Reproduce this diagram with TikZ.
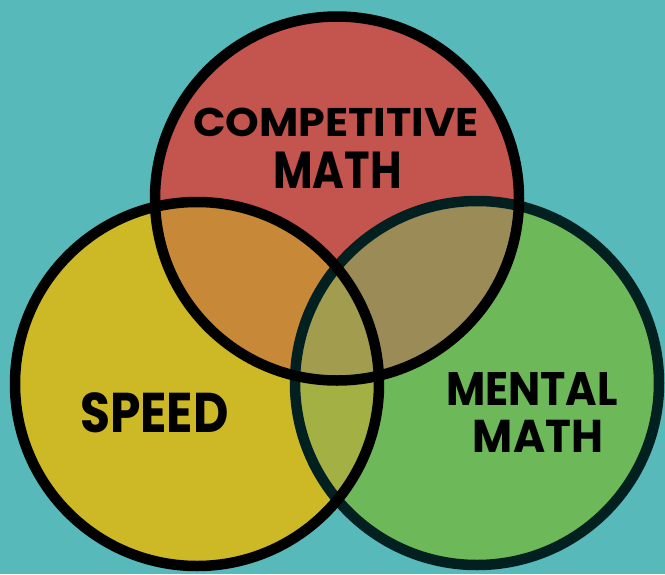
\documentclass[tikz,border=0pt]{standalone}
\usepackage{fontspec}
\usepackage{graphicx}
\setmainfont{Poppins}
\definecolor{bg}{HTML}{57B9B9}
\definecolor{cred}{HTML}{C4554E}
\definecolor{cyel}{HTML}{CDB825}
\definecolor{cgrn}{HTML}{6DB95A}
\definecolor{cry}{HTML}{C78838}
\definecolor{crg}{HTML}{9A8B57}
\definecolor{cyg}{HTML}{A3B043}
\definecolor{crgy}{HTML}{A29C4E}
\definecolor{gedge}{HTML}{02201F}
\tikzset{
  ring/.style={line width=10.5pt, draw=black},
  lbl/.style={align=center, text=black, inner sep=0pt},
}
\newcommand{\wordsz}[3]{{\fontsize{#1}{#1}\selectfont\bfseries\scalebox{#2}[1]{#3}}}
\begin{document}
\begin{tikzpicture}[x=1pt,y=-1pt]
\fill[bg] (0,0) rectangle (665,574);
\useasboundingbox (0,0) rectangle (665,574);
\coordinate (R) at (337,198.5);
\coordinate (Y) at (197,384);
\coordinate (G) at (477,383);
\def\rr{182pt}
\fill[cred] (R) circle[radius=\rr];
\fill[cyel] (Y) circle[radius=\rr];
\fill[cgrn] (G) circle[radius=\rr];
\begin{scope}
  \clip (R) circle[radius=\rr];
  \fill[cry] (Y) circle[radius=\rr];
  \fill[crg] (G) circle[radius=\rr];
\end{scope}
\begin{scope}
  \clip (Y) circle[radius=\rr];
  \fill[cyg] (G) circle[radius=\rr];
  \clip (G) circle[radius=\rr];
  \fill[crgy] (R) circle[radius=\rr];
\end{scope}
\draw[ring, draw=gedge] (G) circle[radius=\rr];
\draw[ring] (Y) circle[radius=\rr];
\draw[ring] (R) circle[radius=\rr];
\node[lbl] (comp) at (336,122.5) {\wordsz{40}{1.07}{COMPETITIVE}};
\node[lbl] (cmath) at (337.5,170) {\wordsz{52}{0.83}{MATH}};
\node[lbl] (speed) at (154.5,412.5) {\wordsz{56}{0.87}{SPEED}};
\node[lbl] (mental) at (532,388.5) {\wordsz{47}{0.91}{MENTAL}};
\node[lbl] (mmath) at (538,436) {\wordsz{46}{0.95}{MATH}};
\end{tikzpicture}
\end{document}
